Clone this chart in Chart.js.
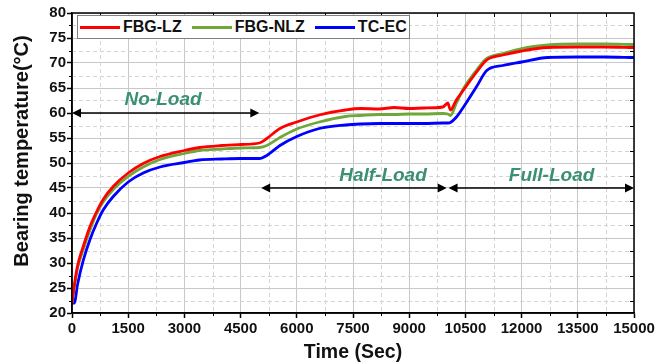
<!DOCTYPE html>
<html>
<head>
<meta charset="utf-8">
<script src="https://cdn.jsdelivr.net/npm/chart.js@4.4.0/dist/chart.umd.min.js"></script>
<style>
html, body { margin: 0; padding: 0; background: #fff; }
#wrap { position: relative; width: 671px; height: 364px; }
#legend {
    position: absolute; left: 77px; top: 15px; width: 331px; height: 22px;
    border: 1px solid #808080; background: #fff;
    display: flex; align-items: center; white-space: nowrap;
    font: bold 16px "Liberation Sans", Arial, sans-serif; color: #111;
}
.item { display: flex; align-items: center; margin-left: 2px; margin-right: 8px; white-space: nowrap; }
.swatch { width: 40px; height: 3px; margin-right: 3px; flex: none; }
</style>
</head>
<body>
<div id="wrap">
    <canvas id="tempChart" width="671" height="364"></canvas>
    <div id="legend"></div>
</div>
<script>
// time axis (seconds) shared by all three series
const timeSec = [0, 60, 150, 300, 480, 660, 840, 1100, 1500, 1900, 2350, 3000, 3400, 4000, 4500, 5000,
    5200, 5550, 6000, 6600, 7300, 7700, 8200, 8600, 9000, 9400, 9900, 10030, 10100, 10250, 10450,
    10800, 11070, 11500, 12000, 12700, 13500, 14200, 15000];

const fbgLZ = [22, 25.5, 29.5, 33.3, 37.3, 40.3, 42.8, 45.3, 48, 49.9, 51.3, 52.5, 53.1, 53.5, 53.7, 54,
    54.9, 56.9, 58.2, 59.6, 60.6, 60.9, 60.8, 61.1, 60.9, 61.0, 61.2, 62.0, 60.6, 62.5, 64.6,
    68.2, 70.6, 71.6, 72.4, 73.1, 73.2, 73.2, 73.1];

const fbgNLZ = [22, 25, 29, 32.7, 36.6, 39.9, 42.3, 44.7, 47.3, 49.2, 50.7, 51.9, 52.5, 52.8, 53, 53.1,
    53.5, 55.1, 56.8, 58.2, 59.3, 59.5, 59.7, 59.7, 59.8, 59.8, 59.9, 59.8, 59.5, 61.8, 64.9,
    68.6, 70.9, 71.9, 72.9, 73.6, 73.8, 73.8, 73.7];

const tcEC = [22, 22, 25.8, 30.5, 34.7, 38, 40.7, 43.3, 46.2, 48, 49.2, 50.1, 50.6, 50.8, 50.9, 50.9,
    51.5, 53.5, 55.3, 56.9, 57.6, 57.8, 57.9, 57.9, 57.9, 57.9, 58, 58, 58.1, 59.1, 61.2,
    65.3, 68.5, 69.5, 70.2, 71.1, 71.2, 71.2, 71.1];

const seriesNames = ['FBG-LZ', 'FBG-NLZ', 'TC-EC'];
const seriesColors = ['#ff0000', '#6fa83a', '#0000ff'];

// phase annotations
const phaseLabels = ['No-Load', 'Half-Load', 'Full-Load'];
const phaseStart = [0, 5050, 10050];
const phaseEnd = [5000, 10000, 15000];
const phaseArrowY = [60, 45, 45];
const phaseLabelX = [2430, 8300, 12800];
const phaseLabelY = [62.6, 47.4, 47.4];

const xMin = 0, xMax = 15000, xStep = 1500;
const yMin = 20, yMax = 80, yStep = 5;
const yTitle = 'Bearing temperature(°C)';

const FONT = '"Liberation Sans", Arial, sans-serif';

function toPoints(vals) {
    return vals.map((v, i) => ({ x: timeSec[i], y: v }));
}

function arrowHead(ctx, x, y, dir) {
    ctx.beginPath();
    ctx.moveTo(x, y);
    ctx.lineTo(x - dir * 9, y - 4.5);
    ctx.lineTo(x - dir * 9, y + 4.5);
    ctx.closePath();
    ctx.fill();
}

const extras = {
    id: 'extras',
    beforeDatasetsDraw(chart) {
        const { ctx, chartArea: a, scales: { x, y } } = chart;
        ctx.save();
        // minor dashed grid
        ctx.strokeStyle = '#d4d4d4';
        ctx.lineWidth = 1;
        ctx.setLineDash([4, 3]);
        for (let v = xMin + xStep / 2; v < xMax; v += xStep) {
            const px = Math.round(x.getPixelForValue(v)) + 0.5;
            ctx.beginPath(); ctx.moveTo(px, a.top); ctx.lineTo(px, a.bottom); ctx.stroke();
        }
        for (let v = yMin + yStep / 2; v < yMax; v += yStep) {
            const py = Math.round(y.getPixelForValue(v)) + 0.5;
            ctx.beginPath(); ctx.moveTo(a.left, py); ctx.lineTo(a.right, py); ctx.stroke();
        }
        ctx.restore();

        // y axis title, sits a bit above the axis middle like the original
        ctx.save();
        ctx.translate(22, (a.top + a.bottom) / 2 - 12);
        ctx.rotate(-Math.PI / 2);
        ctx.fillStyle = '#111';
        ctx.font = 'bold 20px ' + FONT;
        ctx.textAlign = 'center';
        ctx.textBaseline = 'middle';
        ctx.fillText(yTitle, 0, 0);
        ctx.restore();
    },
    afterDatasetsDraw(chart) {
        const { ctx, chartArea: a, scales: { x, y } } = chart;
        ctx.save();
        // frame
        ctx.strokeStyle = '#000';
        ctx.lineWidth = 1.5;
        ctx.strokeRect(a.left, a.top, a.right - a.left, a.bottom - a.top);

        // minor ticks (outside bottom/left), inside ticks on top/right
        ctx.lineWidth = 1;
        for (let v = xMin + xStep / 2; v < xMax; v += xStep) {
            const px = Math.round(x.getPixelForValue(v)) + 0.5;
            ctx.beginPath(); ctx.moveTo(px, a.bottom); ctx.lineTo(px, a.bottom + 3); ctx.stroke();
            ctx.beginPath(); ctx.moveTo(px, a.top); ctx.lineTo(px, a.top + 4); ctx.stroke();
        }
        for (let v = yMin + yStep / 2; v < yMax; v += yStep) {
            const py = Math.round(y.getPixelForValue(v)) + 0.5;
            ctx.beginPath(); ctx.moveTo(a.left, py); ctx.lineTo(a.left - 3, py); ctx.stroke();
            ctx.beginPath(); ctx.moveTo(a.right, py); ctx.lineTo(a.right - 4, py); ctx.stroke();
        }

        // phase arrows + labels
        ctx.fillStyle = '#000';
        ctx.strokeStyle = '#000';
        ctx.lineWidth = 1.5;
        phaseLabels.forEach((label, i) => {
            const x0 = x.getPixelForValue(phaseStart[i]);
            const x1 = x.getPixelForValue(phaseEnd[i]);
            const py = y.getPixelForValue(phaseArrowY[i]);
            ctx.beginPath(); ctx.moveTo(x0 + 4, py); ctx.lineTo(x1 - 4, py); ctx.stroke();
            arrowHead(ctx, x0, py, -1);
            arrowHead(ctx, x1, py, 1);
        });
        ctx.fillStyle = '#3a8f74';
        ctx.font = 'italic bold 19px ' + FONT;
        ctx.textAlign = 'center';
        ctx.textBaseline = 'middle';
        phaseLabels.forEach((label, i) => {
            ctx.fillText(label, x.getPixelForValue(phaseLabelX[i]), y.getPixelForValue(phaseLabelY[i]));
        });
        ctx.restore();
    }
};

const ctx = document.getElementById('tempChart').getContext('2d');
const tempChart = new Chart(ctx, {
    type: 'line',
    data: {
        datasets: [fbgLZ, fbgNLZ, tcEC].map((vals, i) => ({
            label: seriesNames[i],
            data: toPoints(vals),
            borderColor: seriesColors[i],
            backgroundColor: seriesColors[i],
            borderWidth: 2.8,
            pointRadius: 0,
            cubicInterpolationMode: 'monotone',
            fill: false
        }))
    },
    options: {
        responsive: false,
        animation: false,
        layout: { padding: { left: 0, right: 37, top: 13, bottom: 0 } },
        plugins: { legend: { display: false }, tooltip: { enabled: false } },
        scales: {
            x: {
                type: 'linear', min: xMin, max: xMax,
                ticks: { stepSize: xStep, autoSkip: false, maxRotation: 0, padding: 2, color: '#111',
                    font: { family: FONT, size: 15, weight: 'bold' },
                    callback: v => String(v) },
                grid: { color: '#c8c8c8', lineWidth: 1, tickLength: 5, tickColor: '#000', tickWidth: 1.5 },
                border: { color: '#000', width: 1.5 },
                title: { display: true, text: 'Time (Sec)', color: '#111',
                    font: { family: FONT, size: 19.5, weight: 'bold', lineHeight: 1 }, padding: { top: 0, bottom: 2 } },
                afterFit(s) { s.height = 51; }
            },
            y: {
                min: yMin, max: yMax,
                ticks: { stepSize: yStep, padding: 1, color: '#111',
                    font: { family: FONT, size: 15, weight: 'bold' } },
                grid: { color: '#c8c8c8', lineWidth: 1, tickLength: 5, tickColor: '#000', tickWidth: 1.5 },
                border: { color: '#000', width: 1.5 },
                title: { display: false },
                afterFit(s) { s.width = 72; }
            }
        }
    },
    plugins: [extras]
});

// legend built from the series names/colours
const legendBox = document.getElementById('legend');
seriesNames.forEach((name, i) => {
    const item = document.createElement('div');
    item.className = 'item';
    item.innerHTML = `<span class="swatch" style="background:${seriesColors[i]}"></span><span>${name}</span>`;
    legendBox.appendChild(item);
});
</script>
</body>
</html>
